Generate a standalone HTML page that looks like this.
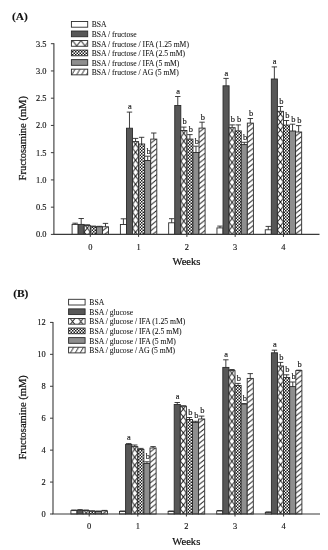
<!DOCTYPE html>
<html><head><meta charset="utf-8"><style>
html,body{margin:0;padding:0;background:#fff;width:328px;height:550px;overflow:hidden}
svg{display:block;filter:blur(0.3px)}
text{stroke:#111;stroke-width:0.14px} .lg{stroke-width:0.06px} .tt{stroke-width:0.22px}
</style></head><body>
<svg width="328" height="550" viewBox="0 0 328 550">
<defs>
<pattern id="dots" patternUnits="userSpaceOnUse" width="3" height="3">
<rect width="3" height="3" fill="#fff"/>
<rect width="1.5" height="1.5" fill="#1a1a1a"/>
<rect x="1.5" y="1.5" width="1.5" height="1.5" fill="#1a1a1a"/>
</pattern>
<pattern id="p1" patternUnits="userSpaceOnUse" x="84.23" y="224.10" width="6.07" height="8"><rect width="6.07" height="8" fill="#fff"/><path d="M0,0 L6.07,8 M6.07,0 L0,8" stroke="#111" stroke-width="0.9" fill="none"/></pattern>
<pattern id="p2" patternUnits="userSpaceOnUse" x="102.44" y="231.00" width="6.07" height="5.15"><rect width="6.07" height="5.15" fill="#fff"/><path d="M0,-5.15 L6.07,-10.05 M0,0.00 L6.07,-4.90 M0,5.15 L6.07,0.25 M0,10.30 L6.07,5.40" stroke="#222" stroke-width="0.95" fill="none"/></pattern>
<pattern id="p3" patternUnits="userSpaceOnUse" x="132.52" y="140.30" width="6.07" height="8"><rect width="6.07" height="8" fill="#fff"/><path d="M0,0 L6.07,8 M6.07,0 L0,8" stroke="#111" stroke-width="0.9" fill="none"/></pattern>
<pattern id="p4" patternUnits="userSpaceOnUse" x="150.73" y="143.30" width="6.07" height="5.15"><rect width="6.07" height="5.15" fill="#fff"/><path d="M0,-5.15 L6.07,-10.05 M0,0.00 L6.07,-4.90 M0,5.15 L6.07,0.25 M0,10.30 L6.07,5.40" stroke="#222" stroke-width="0.95" fill="none"/></pattern>
<pattern id="p5" patternUnits="userSpaceOnUse" x="180.81" y="129.20" width="6.07" height="8"><rect width="6.07" height="8" fill="#fff"/><path d="M0,0 L6.07,8 M6.07,0 L0,8" stroke="#111" stroke-width="0.9" fill="none"/></pattern>
<pattern id="p6" patternUnits="userSpaceOnUse" x="199.02" y="132.30" width="6.07" height="5.15"><rect width="6.07" height="5.15" fill="#fff"/><path d="M0,-5.15 L6.07,-10.05 M0,0.00 L6.07,-4.90 M0,5.15 L6.07,0.25 M0,10.30 L6.07,5.40" stroke="#222" stroke-width="0.95" fill="none"/></pattern>
<pattern id="p7" patternUnits="userSpaceOnUse" x="229.10" y="126.40" width="6.07" height="8"><rect width="6.07" height="8" fill="#fff"/><path d="M0,0 L6.07,8 M6.07,0 L0,8" stroke="#111" stroke-width="0.9" fill="none"/></pattern>
<pattern id="p8" patternUnits="userSpaceOnUse" x="247.31" y="127.30" width="6.07" height="5.15"><rect width="6.07" height="5.15" fill="#fff"/><path d="M0,-5.15 L6.07,-10.05 M0,0.00 L6.07,-4.90 M0,5.15 L6.07,0.25 M0,10.30 L6.07,5.40" stroke="#222" stroke-width="0.95" fill="none"/></pattern>
<pattern id="p9" patternUnits="userSpaceOnUse" x="277.39" y="110.00" width="6.07" height="8"><rect width="6.07" height="8" fill="#fff"/><path d="M0,0 L6.07,8 M6.07,0 L0,8" stroke="#111" stroke-width="0.9" fill="none"/></pattern>
<pattern id="p10" patternUnits="userSpaceOnUse" x="295.60" y="136.20" width="6.07" height="5.15"><rect width="6.07" height="5.15" fill="#fff"/><path d="M0,-5.15 L6.07,-10.05 M0,0.00 L6.07,-4.90 M0,5.15 L6.07,0.25 M0,10.30 L6.07,5.40" stroke="#222" stroke-width="0.95" fill="none"/></pattern>
<pattern id="p11" patternUnits="userSpaceOnUse" x="72.60" y="40.61" width="8.3" height="10.7"><rect width="8.3" height="10.7" fill="#fff"/><path d="M0,0 L8.3,10.7 M8.3,0 L0,10.7" stroke="#222" stroke-width="0.95" fill="none"/></pattern>
<pattern id="p12" patternUnits="userSpaceOnUse" x="71.70" y="69.15" width="4.9" height="5.7"><rect width="4.9" height="5.7" fill="#fff"/><path d="M0,5.7 L3.4,0 M-4.9,5.7 L-1.5000000000000004,0 M4.9,5.7 L8.3,0" stroke="#222" stroke-width="0.95" fill="none"/></pattern>
<pattern id="p13" patternUnits="userSpaceOnUse" x="83.10" y="509.20" width="6.1" height="8"><rect width="6.1" height="8" fill="#fff"/><path d="M0,0 L6.1,8 M6.1,0 L0,8" stroke="#111" stroke-width="0.9" fill="none"/></pattern>
<pattern id="p14" patternUnits="userSpaceOnUse" x="101.40" y="515.10" width="6.1" height="5.15"><rect width="6.1" height="5.15" fill="#fff"/><path d="M0,-5.15 L6.1,-10.05 M0,0.00 L6.1,-4.90 M0,5.15 L6.1,0.25 M0,10.30 L6.1,5.40" stroke="#222" stroke-width="0.95" fill="none"/></pattern>
<pattern id="p15" patternUnits="userSpaceOnUse" x="131.70" y="445.30" width="6.1" height="8"><rect width="6.1" height="8" fill="#fff"/><path d="M0,0 L6.1,8 M6.1,0 L0,8" stroke="#111" stroke-width="0.9" fill="none"/></pattern>
<pattern id="p16" patternUnits="userSpaceOnUse" x="150.00" y="452.20" width="6.1" height="5.15"><rect width="6.1" height="5.15" fill="#fff"/><path d="M0,-5.15 L6.1,-10.05 M0,0.00 L6.1,-4.90 M0,5.15 L6.1,0.25 M0,10.30 L6.1,5.40" stroke="#222" stroke-width="0.95" fill="none"/></pattern>
<pattern id="p17" patternUnits="userSpaceOnUse" x="180.30" y="404.90" width="6.1" height="8"><rect width="6.1" height="8" fill="#fff"/><path d="M0,0 L6.1,8 M6.1,0 L0,8" stroke="#111" stroke-width="0.9" fill="none"/></pattern>
<pattern id="p18" patternUnits="userSpaceOnUse" x="198.60" y="423.20" width="6.1" height="5.15"><rect width="6.1" height="5.15" fill="#fff"/><path d="M0,-5.15 L6.1,-10.05 M0,0.00 L6.1,-4.90 M0,5.15 L6.1,0.25 M0,10.30 L6.1,5.40" stroke="#222" stroke-width="0.95" fill="none"/></pattern>
<pattern id="p19" patternUnits="userSpaceOnUse" x="228.90" y="369.30" width="6.1" height="8"><rect width="6.1" height="8" fill="#fff"/><path d="M0,0 L6.1,8 M6.1,0 L0,8" stroke="#111" stroke-width="0.9" fill="none"/></pattern>
<pattern id="p20" patternUnits="userSpaceOnUse" x="247.20" y="382.60" width="6.1" height="5.15"><rect width="6.1" height="5.15" fill="#fff"/><path d="M0,-5.15 L6.1,-10.05 M0,0.00 L6.1,-4.90 M0,5.15 L6.1,0.25 M0,10.30 L6.1,5.40" stroke="#222" stroke-width="0.95" fill="none"/></pattern>
<pattern id="p21" patternUnits="userSpaceOnUse" x="277.50" y="364.70" width="6.1" height="8"><rect width="6.1" height="8" fill="#fff"/><path d="M0,0 L6.1,8 M6.1,0 L0,8" stroke="#111" stroke-width="0.9" fill="none"/></pattern>
<pattern id="p22" patternUnits="userSpaceOnUse" x="295.80" y="374.80" width="6.1" height="5.15"><rect width="6.1" height="5.15" fill="#fff"/><path d="M0,-5.15 L6.1,-10.05 M0,0.00 L6.1,-4.90 M0,5.15 L6.1,0.25 M0,10.30 L6.1,5.40" stroke="#222" stroke-width="0.95" fill="none"/></pattern>
<pattern id="p23" patternUnits="userSpaceOnUse" x="68.45" y="316.16" width="8.3" height="10.7"><rect width="8.3" height="10.7" fill="#fff"/><path d="M0,0 L8.3,10.7 M8.3,0 L0,10.7" stroke="#222" stroke-width="0.95" fill="none"/></pattern>
<pattern id="p24" patternUnits="userSpaceOnUse" x="70.40" y="347.20" width="4.9" height="5.7"><rect width="4.9" height="5.7" fill="#fff"/><path d="M0,5.7 L3.4,0 M-4.9,5.7 L-1.5000000000000004,0 M4.9,5.7 L8.3,0" stroke="#222" stroke-width="0.95" fill="none"/></pattern>
</defs>
<rect width="328" height="550" fill="#fff"/>
<g font-family='"Liberation Serif", serif' fill="#111">
<rect x="72.09" y="224.40" width="6.07" height="10.00" fill="#fff" stroke="#2a2a2a" stroke-width="0.9"/>
<line x1="75.12" y1="224.40" x2="75.12" y2="223.20" stroke="#2a2a2a" stroke-width="0.9"/>
<line x1="72.42" y1="223.20" x2="77.83" y2="223.20" stroke="#2a2a2a" stroke-width="0.9"/>
<rect x="78.16" y="224.40" width="6.07" height="10.00" fill="#575757" stroke="#2a2a2a" stroke-width="0.9"/>
<line x1="81.19" y1="224.40" x2="81.19" y2="218.50" stroke="#2a2a2a" stroke-width="0.9"/>
<line x1="78.49" y1="218.50" x2="83.89" y2="218.50" stroke="#2a2a2a" stroke-width="0.9"/>
<rect x="84.23" y="225.40" width="6.07" height="9.00" fill="url(#p1)" stroke="#2a2a2a" stroke-width="0.9"/>
<line x1="87.27" y1="225.40" x2="87.27" y2="224.80" stroke="#2a2a2a" stroke-width="0.9"/>
<line x1="84.56" y1="224.80" x2="89.97" y2="224.80" stroke="#2a2a2a" stroke-width="0.9"/>
<rect x="90.30" y="226.80" width="6.07" height="7.60" fill="url(#dots)" stroke="#2a2a2a" stroke-width="0.9"/>
<line x1="93.34" y1="226.80" x2="93.34" y2="226.10" stroke="#2a2a2a" stroke-width="0.9"/>
<line x1="90.64" y1="226.10" x2="96.04" y2="226.10" stroke="#2a2a2a" stroke-width="0.9"/>
<rect x="96.37" y="226.80" width="6.07" height="7.60" fill="#8e8e8e" stroke="#2a2a2a" stroke-width="0.9"/>
<line x1="99.41" y1="226.80" x2="99.41" y2="226.30" stroke="#2a2a2a" stroke-width="0.9"/>
<line x1="96.70" y1="226.30" x2="102.11" y2="226.30" stroke="#2a2a2a" stroke-width="0.9"/>
<rect x="102.44" y="226.80" width="6.07" height="7.60" fill="url(#p2)" stroke="#2a2a2a" stroke-width="0.9"/>
<line x1="105.47" y1="226.80" x2="105.47" y2="223.40" stroke="#2a2a2a" stroke-width="0.9"/>
<line x1="102.77" y1="223.40" x2="108.17" y2="223.40" stroke="#2a2a2a" stroke-width="0.9"/>
<rect x="120.38" y="224.50" width="6.07" height="9.90" fill="#fff" stroke="#2a2a2a" stroke-width="0.9"/>
<line x1="123.41" y1="224.50" x2="123.41" y2="218.80" stroke="#2a2a2a" stroke-width="0.9"/>
<line x1="120.71" y1="218.80" x2="126.11" y2="218.80" stroke="#2a2a2a" stroke-width="0.9"/>
<rect x="126.45" y="128.20" width="6.07" height="106.20" fill="#575757" stroke="#2a2a2a" stroke-width="0.9"/>
<line x1="129.48" y1="128.20" x2="129.48" y2="112.10" stroke="#2a2a2a" stroke-width="0.9"/>
<line x1="126.78" y1="112.10" x2="132.18" y2="112.10" stroke="#2a2a2a" stroke-width="0.9"/>
<text x="129.78" y="109.30" font-size="8.4" text-anchor="middle">a</text>
<rect x="132.52" y="141.60" width="6.07" height="92.80" fill="url(#p3)" stroke="#2a2a2a" stroke-width="0.9"/>
<line x1="135.55" y1="141.60" x2="135.55" y2="138.40" stroke="#2a2a2a" stroke-width="0.9"/>
<line x1="132.85" y1="138.40" x2="138.25" y2="138.40" stroke="#2a2a2a" stroke-width="0.9"/>
<rect x="138.59" y="144.00" width="6.07" height="90.40" fill="url(#dots)" stroke="#2a2a2a" stroke-width="0.9"/>
<line x1="141.62" y1="144.00" x2="141.62" y2="137.30" stroke="#2a2a2a" stroke-width="0.9"/>
<line x1="138.93" y1="137.30" x2="144.32" y2="137.30" stroke="#2a2a2a" stroke-width="0.9"/>
<rect x="144.66" y="160.50" width="6.07" height="73.90" fill="#8e8e8e" stroke="#2a2a2a" stroke-width="0.9"/>
<line x1="147.69" y1="160.50" x2="147.69" y2="156.20" stroke="#2a2a2a" stroke-width="0.9"/>
<line x1="145.00" y1="156.20" x2="150.39" y2="156.20" stroke="#2a2a2a" stroke-width="0.9"/>
<text x="148.50" y="153.50" font-size="8.4" text-anchor="middle">b</text>
<rect x="150.73" y="139.10" width="6.07" height="95.30" fill="url(#p4)" stroke="#2a2a2a" stroke-width="0.9"/>
<line x1="153.76" y1="139.10" x2="153.76" y2="133.00" stroke="#2a2a2a" stroke-width="0.9"/>
<line x1="151.06" y1="133.00" x2="156.46" y2="133.00" stroke="#2a2a2a" stroke-width="0.9"/>
<rect x="168.67" y="222.80" width="6.07" height="11.60" fill="#fff" stroke="#2a2a2a" stroke-width="0.9"/>
<line x1="171.70" y1="222.80" x2="171.70" y2="218.70" stroke="#2a2a2a" stroke-width="0.9"/>
<line x1="169.00" y1="218.70" x2="174.40" y2="218.70" stroke="#2a2a2a" stroke-width="0.9"/>
<rect x="174.74" y="105.50" width="6.07" height="128.90" fill="#575757" stroke="#2a2a2a" stroke-width="0.9"/>
<line x1="177.77" y1="105.50" x2="177.77" y2="96.50" stroke="#2a2a2a" stroke-width="0.9"/>
<line x1="175.07" y1="96.50" x2="180.47" y2="96.50" stroke="#2a2a2a" stroke-width="0.9"/>
<text x="178.07" y="93.70" font-size="8.4" text-anchor="middle">a</text>
<rect x="180.81" y="130.50" width="6.07" height="103.90" fill="url(#p5)" stroke="#2a2a2a" stroke-width="0.9"/>
<line x1="183.84" y1="130.50" x2="183.84" y2="127.10" stroke="#2a2a2a" stroke-width="0.9"/>
<line x1="181.15" y1="127.10" x2="186.54" y2="127.10" stroke="#2a2a2a" stroke-width="0.9"/>
<text x="184.65" y="124.40" font-size="8.4" text-anchor="middle">b</text>
<rect x="186.88" y="139.10" width="6.07" height="95.30" fill="url(#dots)" stroke="#2a2a2a" stroke-width="0.9"/>
<line x1="189.91" y1="139.10" x2="189.91" y2="134.60" stroke="#2a2a2a" stroke-width="0.9"/>
<line x1="187.22" y1="134.60" x2="192.61" y2="134.60" stroke="#2a2a2a" stroke-width="0.9"/>
<text x="190.72" y="131.90" font-size="8.4" text-anchor="middle">b</text>
<rect x="192.95" y="152.50" width="6.07" height="81.90" fill="#8e8e8e" stroke="#2a2a2a" stroke-width="0.9"/>
<line x1="195.98" y1="152.50" x2="195.98" y2="146.20" stroke="#2a2a2a" stroke-width="0.9"/>
<line x1="193.28" y1="146.20" x2="198.68" y2="146.20" stroke="#2a2a2a" stroke-width="0.9"/>
<text x="196.78" y="143.50" font-size="8.4" text-anchor="middle">b</text>
<rect x="199.02" y="128.10" width="6.07" height="106.30" fill="url(#p6)" stroke="#2a2a2a" stroke-width="0.9"/>
<line x1="202.05" y1="128.10" x2="202.05" y2="122.20" stroke="#2a2a2a" stroke-width="0.9"/>
<line x1="199.35" y1="122.20" x2="204.75" y2="122.20" stroke="#2a2a2a" stroke-width="0.9"/>
<text x="202.85" y="119.50" font-size="8.4" text-anchor="middle">b</text>
<rect x="216.96" y="227.90" width="6.07" height="6.50" fill="#fff" stroke="#2a2a2a" stroke-width="0.9"/>
<line x1="220.00" y1="227.90" x2="220.00" y2="226.10" stroke="#2a2a2a" stroke-width="0.9"/>
<line x1="217.30" y1="226.10" x2="222.69" y2="226.10" stroke="#2a2a2a" stroke-width="0.9"/>
<rect x="223.03" y="85.80" width="6.07" height="148.60" fill="#575757" stroke="#2a2a2a" stroke-width="0.9"/>
<line x1="226.06" y1="85.80" x2="226.06" y2="78.40" stroke="#2a2a2a" stroke-width="0.9"/>
<line x1="223.37" y1="78.40" x2="228.76" y2="78.40" stroke="#2a2a2a" stroke-width="0.9"/>
<text x="226.37" y="75.60" font-size="8.4" text-anchor="middle">a</text>
<rect x="229.10" y="127.70" width="6.07" height="106.70" fill="url(#p7)" stroke="#2a2a2a" stroke-width="0.9"/>
<line x1="232.14" y1="127.70" x2="232.14" y2="124.90" stroke="#2a2a2a" stroke-width="0.9"/>
<line x1="229.44" y1="124.90" x2="234.84" y2="124.90" stroke="#2a2a2a" stroke-width="0.9"/>
<text x="232.94" y="122.20" font-size="8.4" text-anchor="middle">b</text>
<rect x="235.17" y="130.90" width="6.07" height="103.50" fill="url(#dots)" stroke="#2a2a2a" stroke-width="0.9"/>
<line x1="238.21" y1="130.90" x2="238.21" y2="124.90" stroke="#2a2a2a" stroke-width="0.9"/>
<line x1="235.51" y1="124.90" x2="240.91" y2="124.90" stroke="#2a2a2a" stroke-width="0.9"/>
<text x="239.01" y="122.20" font-size="8.4" text-anchor="middle">b</text>
<rect x="241.24" y="144.60" width="6.07" height="89.80" fill="#8e8e8e" stroke="#2a2a2a" stroke-width="0.9"/>
<line x1="244.28" y1="144.60" x2="244.28" y2="142.30" stroke="#2a2a2a" stroke-width="0.9"/>
<line x1="241.58" y1="142.30" x2="246.97" y2="142.30" stroke="#2a2a2a" stroke-width="0.9"/>
<text x="245.08" y="139.60" font-size="8.4" text-anchor="middle">b</text>
<rect x="247.31" y="123.10" width="6.07" height="111.30" fill="url(#p8)" stroke="#2a2a2a" stroke-width="0.9"/>
<line x1="250.34" y1="123.10" x2="250.34" y2="118.50" stroke="#2a2a2a" stroke-width="0.9"/>
<line x1="247.65" y1="118.50" x2="253.04" y2="118.50" stroke="#2a2a2a" stroke-width="0.9"/>
<text x="251.15" y="115.80" font-size="8.4" text-anchor="middle">b</text>
<rect x="265.25" y="229.80" width="6.07" height="4.60" fill="#fff" stroke="#2a2a2a" stroke-width="0.9"/>
<line x1="268.29" y1="229.80" x2="268.29" y2="226.40" stroke="#2a2a2a" stroke-width="0.9"/>
<line x1="265.59" y1="226.40" x2="270.99" y2="226.40" stroke="#2a2a2a" stroke-width="0.9"/>
<rect x="271.32" y="79.00" width="6.07" height="155.40" fill="#575757" stroke="#2a2a2a" stroke-width="0.9"/>
<line x1="274.36" y1="79.00" x2="274.36" y2="66.90" stroke="#2a2a2a" stroke-width="0.9"/>
<line x1="271.66" y1="66.90" x2="277.06" y2="66.90" stroke="#2a2a2a" stroke-width="0.9"/>
<text x="274.66" y="64.10" font-size="8.4" text-anchor="middle">a</text>
<rect x="277.39" y="111.30" width="6.07" height="123.10" fill="url(#p9)" stroke="#2a2a2a" stroke-width="0.9"/>
<line x1="280.43" y1="111.30" x2="280.43" y2="106.50" stroke="#2a2a2a" stroke-width="0.9"/>
<line x1="277.73" y1="106.50" x2="283.12" y2="106.50" stroke="#2a2a2a" stroke-width="0.9"/>
<text x="281.23" y="103.80" font-size="8.4" text-anchor="middle">b</text>
<rect x="283.46" y="125.10" width="6.07" height="109.30" fill="url(#dots)" stroke="#2a2a2a" stroke-width="0.9"/>
<line x1="286.50" y1="125.10" x2="286.50" y2="120.50" stroke="#2a2a2a" stroke-width="0.9"/>
<line x1="283.80" y1="120.50" x2="289.19" y2="120.50" stroke="#2a2a2a" stroke-width="0.9"/>
<text x="287.30" y="117.80" font-size="8.4" text-anchor="middle">b</text>
<rect x="289.53" y="131.00" width="6.07" height="103.40" fill="#8e8e8e" stroke="#2a2a2a" stroke-width="0.9"/>
<line x1="292.56" y1="131.00" x2="292.56" y2="124.20" stroke="#2a2a2a" stroke-width="0.9"/>
<line x1="289.87" y1="124.20" x2="295.26" y2="124.20" stroke="#2a2a2a" stroke-width="0.9"/>
<text x="293.37" y="121.50" font-size="8.4" text-anchor="middle">b</text>
<rect x="295.60" y="132.00" width="6.07" height="102.40" fill="url(#p10)" stroke="#2a2a2a" stroke-width="0.9"/>
<line x1="298.64" y1="132.00" x2="298.64" y2="125.60" stroke="#2a2a2a" stroke-width="0.9"/>
<line x1="295.94" y1="125.60" x2="301.34" y2="125.60" stroke="#2a2a2a" stroke-width="0.9"/>
<text x="299.44" y="122.90" font-size="8.4" text-anchor="middle">b</text>
<line x1="53.9" y1="43.20" x2="53.9" y2="234.4" stroke="#3a3a3a" stroke-width="1.1"/>
<line x1="53.4" y1="234.4" x2="319.5" y2="234.4" stroke="#3a3a3a" stroke-width="1.1"/>
<line x1="50.9" y1="234.40" x2="53.9" y2="234.40" stroke="#3a3a3a" stroke-width="1"/>
<text x="46.5" y="237.30" font-size="8.4" text-anchor="end">0.0</text>
<line x1="50.9" y1="207.16" x2="53.9" y2="207.16" stroke="#3a3a3a" stroke-width="1"/>
<text x="46.5" y="210.06" font-size="8.4" text-anchor="end">0.5</text>
<line x1="50.9" y1="179.91" x2="53.9" y2="179.91" stroke="#3a3a3a" stroke-width="1"/>
<text x="46.5" y="182.81" font-size="8.4" text-anchor="end">1.0</text>
<line x1="50.9" y1="152.67" x2="53.9" y2="152.67" stroke="#3a3a3a" stroke-width="1"/>
<text x="46.5" y="155.57" font-size="8.4" text-anchor="end">1.5</text>
<line x1="50.9" y1="125.43" x2="53.9" y2="125.43" stroke="#3a3a3a" stroke-width="1"/>
<text x="46.5" y="128.33" font-size="8.4" text-anchor="end">2.0</text>
<line x1="50.9" y1="98.19" x2="53.9" y2="98.19" stroke="#3a3a3a" stroke-width="1"/>
<text x="46.5" y="101.09" font-size="8.4" text-anchor="end">2.5</text>
<line x1="50.9" y1="70.94" x2="53.9" y2="70.94" stroke="#3a3a3a" stroke-width="1"/>
<text x="46.5" y="73.84" font-size="8.4" text-anchor="end">3.0</text>
<line x1="50.9" y1="43.70" x2="53.9" y2="43.70" stroke="#3a3a3a" stroke-width="1"/>
<text x="46.5" y="46.60" font-size="8.4" text-anchor="end">3.5</text>
<line x1="90.30" y1="234.4" x2="90.30" y2="236.9" stroke="#3a3a3a" stroke-width="1"/>
<text x="90.30" y="249.70" font-size="8.4" text-anchor="middle">0</text>
<line x1="138.59" y1="234.4" x2="138.59" y2="236.9" stroke="#3a3a3a" stroke-width="1"/>
<text x="138.59" y="249.70" font-size="8.4" text-anchor="middle">1</text>
<line x1="186.88" y1="234.4" x2="186.88" y2="236.9" stroke="#3a3a3a" stroke-width="1"/>
<text x="186.88" y="249.70" font-size="8.4" text-anchor="middle">2</text>
<line x1="235.17" y1="234.4" x2="235.17" y2="236.9" stroke="#3a3a3a" stroke-width="1"/>
<text x="235.17" y="249.70" font-size="8.4" text-anchor="middle">3</text>
<line x1="283.46" y1="234.4" x2="283.46" y2="236.9" stroke="#3a3a3a" stroke-width="1"/>
<text x="283.46" y="249.70" font-size="8.4" text-anchor="middle">4</text>
<text transform="translate(26.2,138.25) rotate(-90)" font-size="10.5" text-anchor="middle" class="tt">Fructosamine (mM)</text>
<text x="186.5" y="265.10" font-size="10.6" text-anchor="middle" class="tt">Weeks</text>
<text x="11.9" y="19.8" font-size="11.4" font-weight="bold">(A)</text>
<rect x="71.4" y="21.50" width="16.3" height="5.7" fill="#fff" stroke="#2a2a2a" stroke-width="0.9"/>
<text x="91.7" y="27.45" font-size="7.65" class="lg">BSA</text>
<rect x="71.4" y="31.03" width="16.3" height="5.7" fill="#575757" stroke="#2a2a2a" stroke-width="0.9"/>
<text x="91.7" y="36.98" font-size="7.65" class="lg">BSA / fructose</text>
<rect x="71.4" y="40.56" width="16.3" height="5.7" fill="url(#p11)" stroke="#2a2a2a" stroke-width="0.9"/>
<text x="91.7" y="46.51" font-size="7.65" class="lg">BSA / fructose / IFA (1.25 mM)</text>
<rect x="71.4" y="50.09" width="16.3" height="5.7" fill="url(#dots)" stroke="#2a2a2a" stroke-width="0.9"/>
<text x="91.7" y="56.04" font-size="7.65" class="lg">BSA / fructose / IFA (2.5 mM)</text>
<rect x="71.4" y="59.62" width="16.3" height="5.7" fill="#8e8e8e" stroke="#2a2a2a" stroke-width="0.9"/>
<text x="91.7" y="65.57" font-size="7.65" class="lg">BSA / fructose / IFA (5 mM)</text>
<rect x="71.4" y="69.15" width="16.3" height="5.7" fill="url(#p12)" stroke="#2a2a2a" stroke-width="0.9"/>
<text x="91.7" y="75.10" font-size="7.65" class="lg">BSA / fructose / AG (5 mM)</text>
<rect x="70.90" y="510.60" width="6.10" height="3.40" fill="#fff" stroke="#2a2a2a" stroke-width="0.9"/>
<line x1="73.95" y1="510.60" x2="73.95" y2="510.00" stroke="#2a2a2a" stroke-width="0.9"/>
<line x1="71.25" y1="510.00" x2="76.65" y2="510.00" stroke="#2a2a2a" stroke-width="0.9"/>
<rect x="77.00" y="510.30" width="6.10" height="3.70" fill="#575757" stroke="#2a2a2a" stroke-width="0.9"/>
<line x1="80.05" y1="510.30" x2="80.05" y2="509.60" stroke="#2a2a2a" stroke-width="0.9"/>
<line x1="77.35" y1="509.60" x2="82.75" y2="509.60" stroke="#2a2a2a" stroke-width="0.9"/>
<rect x="83.10" y="510.50" width="6.10" height="3.50" fill="url(#p13)" stroke="#2a2a2a" stroke-width="0.9"/>
<line x1="86.15" y1="510.50" x2="86.15" y2="510.00" stroke="#2a2a2a" stroke-width="0.9"/>
<line x1="83.45" y1="510.00" x2="88.85" y2="510.00" stroke="#2a2a2a" stroke-width="0.9"/>
<rect x="89.20" y="511.20" width="6.10" height="2.80" fill="url(#dots)" stroke="#2a2a2a" stroke-width="0.9"/>
<line x1="92.25" y1="511.20" x2="92.25" y2="510.80" stroke="#2a2a2a" stroke-width="0.9"/>
<line x1="89.55" y1="510.80" x2="94.95" y2="510.80" stroke="#2a2a2a" stroke-width="0.9"/>
<rect x="95.30" y="511.50" width="6.10" height="2.50" fill="#8e8e8e" stroke="#2a2a2a" stroke-width="0.9"/>
<line x1="98.35" y1="511.50" x2="98.35" y2="511.00" stroke="#2a2a2a" stroke-width="0.9"/>
<line x1="95.65" y1="511.00" x2="101.05" y2="511.00" stroke="#2a2a2a" stroke-width="0.9"/>
<rect x="101.40" y="510.90" width="6.10" height="3.10" fill="url(#p14)" stroke="#2a2a2a" stroke-width="0.9"/>
<line x1="104.45" y1="510.90" x2="104.45" y2="510.40" stroke="#2a2a2a" stroke-width="0.9"/>
<line x1="101.75" y1="510.40" x2="107.15" y2="510.40" stroke="#2a2a2a" stroke-width="0.9"/>
<rect x="119.50" y="511.40" width="6.10" height="2.60" fill="#fff" stroke="#2a2a2a" stroke-width="0.9"/>
<line x1="122.55" y1="511.40" x2="122.55" y2="511.00" stroke="#2a2a2a" stroke-width="0.9"/>
<line x1="119.85" y1="511.00" x2="125.25" y2="511.00" stroke="#2a2a2a" stroke-width="0.9"/>
<rect x="125.60" y="444.40" width="6.10" height="69.60" fill="#575757" stroke="#2a2a2a" stroke-width="0.9"/>
<line x1="128.65" y1="444.40" x2="128.65" y2="443.60" stroke="#2a2a2a" stroke-width="0.9"/>
<line x1="125.95" y1="443.60" x2="131.35" y2="443.60" stroke="#2a2a2a" stroke-width="0.9"/>
<text x="128.95" y="440.30" font-size="8.4" text-anchor="middle">a</text>
<rect x="131.70" y="446.60" width="6.10" height="67.40" fill="url(#p15)" stroke="#2a2a2a" stroke-width="0.9"/>
<line x1="134.75" y1="446.60" x2="134.75" y2="445.00" stroke="#2a2a2a" stroke-width="0.9"/>
<line x1="132.05" y1="445.00" x2="137.45" y2="445.00" stroke="#2a2a2a" stroke-width="0.9"/>
<rect x="137.80" y="449.40" width="6.10" height="64.60" fill="url(#dots)" stroke="#2a2a2a" stroke-width="0.9"/>
<line x1="140.85" y1="449.40" x2="140.85" y2="448.40" stroke="#2a2a2a" stroke-width="0.9"/>
<line x1="138.15" y1="448.40" x2="143.55" y2="448.40" stroke="#2a2a2a" stroke-width="0.9"/>
<rect x="143.90" y="463.40" width="6.10" height="50.60" fill="#8e8e8e" stroke="#2a2a2a" stroke-width="0.9"/>
<line x1="146.95" y1="463.40" x2="146.95" y2="461.80" stroke="#2a2a2a" stroke-width="0.9"/>
<line x1="144.25" y1="461.80" x2="149.65" y2="461.80" stroke="#2a2a2a" stroke-width="0.9"/>
<text x="147.75" y="458.90" font-size="8.4" text-anchor="middle">b</text>
<rect x="150.00" y="448.00" width="6.10" height="66.00" fill="url(#p16)" stroke="#2a2a2a" stroke-width="0.9"/>
<line x1="153.05" y1="448.00" x2="153.05" y2="446.60" stroke="#2a2a2a" stroke-width="0.9"/>
<line x1="150.35" y1="446.60" x2="155.75" y2="446.60" stroke="#2a2a2a" stroke-width="0.9"/>
<rect x="168.10" y="511.40" width="6.10" height="2.60" fill="#fff" stroke="#2a2a2a" stroke-width="0.9"/>
<line x1="171.15" y1="511.40" x2="171.15" y2="511.00" stroke="#2a2a2a" stroke-width="0.9"/>
<line x1="168.45" y1="511.00" x2="173.85" y2="511.00" stroke="#2a2a2a" stroke-width="0.9"/>
<rect x="174.20" y="404.50" width="6.10" height="109.50" fill="#575757" stroke="#2a2a2a" stroke-width="0.9"/>
<line x1="177.25" y1="404.50" x2="177.25" y2="402.50" stroke="#2a2a2a" stroke-width="0.9"/>
<line x1="174.55" y1="402.50" x2="179.95" y2="402.50" stroke="#2a2a2a" stroke-width="0.9"/>
<text x="177.55" y="399.20" font-size="8.4" text-anchor="middle">a</text>
<rect x="180.30" y="406.20" width="6.10" height="107.80" fill="url(#p17)" stroke="#2a2a2a" stroke-width="0.9"/>
<line x1="183.35" y1="406.20" x2="183.35" y2="405.80" stroke="#2a2a2a" stroke-width="0.9"/>
<line x1="180.65" y1="405.80" x2="186.05" y2="405.80" stroke="#2a2a2a" stroke-width="0.9"/>
<rect x="186.40" y="419.50" width="6.10" height="94.50" fill="url(#dots)" stroke="#2a2a2a" stroke-width="0.9"/>
<line x1="189.45" y1="419.50" x2="189.45" y2="417.50" stroke="#2a2a2a" stroke-width="0.9"/>
<line x1="186.75" y1="417.50" x2="192.15" y2="417.50" stroke="#2a2a2a" stroke-width="0.9"/>
<text x="190.25" y="414.60" font-size="8.4" text-anchor="middle">b</text>
<rect x="192.50" y="422.40" width="6.10" height="91.60" fill="#8e8e8e" stroke="#2a2a2a" stroke-width="0.9"/>
<line x1="195.55" y1="422.40" x2="195.55" y2="421.30" stroke="#2a2a2a" stroke-width="0.9"/>
<line x1="192.85" y1="421.30" x2="198.25" y2="421.30" stroke="#2a2a2a" stroke-width="0.9"/>
<text x="196.35" y="418.40" font-size="8.4" text-anchor="middle">b</text>
<rect x="198.60" y="419.00" width="6.10" height="95.00" fill="url(#p18)" stroke="#2a2a2a" stroke-width="0.9"/>
<line x1="201.65" y1="419.00" x2="201.65" y2="416.10" stroke="#2a2a2a" stroke-width="0.9"/>
<line x1="198.95" y1="416.10" x2="204.35" y2="416.10" stroke="#2a2a2a" stroke-width="0.9"/>
<text x="202.45" y="413.20" font-size="8.4" text-anchor="middle">b</text>
<rect x="216.70" y="511.00" width="6.10" height="3.00" fill="#fff" stroke="#2a2a2a" stroke-width="0.9"/>
<line x1="219.75" y1="511.00" x2="219.75" y2="510.50" stroke="#2a2a2a" stroke-width="0.9"/>
<line x1="217.05" y1="510.50" x2="222.45" y2="510.50" stroke="#2a2a2a" stroke-width="0.9"/>
<rect x="222.80" y="367.40" width="6.10" height="146.60" fill="#575757" stroke="#2a2a2a" stroke-width="0.9"/>
<line x1="225.85" y1="367.40" x2="225.85" y2="359.80" stroke="#2a2a2a" stroke-width="0.9"/>
<line x1="223.15" y1="359.80" x2="228.55" y2="359.80" stroke="#2a2a2a" stroke-width="0.9"/>
<text x="226.15" y="356.50" font-size="8.4" text-anchor="middle">a</text>
<rect x="228.90" y="370.60" width="6.10" height="143.40" fill="url(#p19)" stroke="#2a2a2a" stroke-width="0.9"/>
<line x1="231.95" y1="370.60" x2="231.95" y2="369.50" stroke="#2a2a2a" stroke-width="0.9"/>
<line x1="229.25" y1="369.50" x2="234.65" y2="369.50" stroke="#2a2a2a" stroke-width="0.9"/>
<rect x="235.00" y="385.50" width="6.10" height="128.50" fill="url(#dots)" stroke="#2a2a2a" stroke-width="0.9"/>
<line x1="238.05" y1="385.50" x2="238.05" y2="383.40" stroke="#2a2a2a" stroke-width="0.9"/>
<line x1="235.35" y1="383.40" x2="240.75" y2="383.40" stroke="#2a2a2a" stroke-width="0.9"/>
<text x="238.85" y="380.50" font-size="8.4" text-anchor="middle">b</text>
<rect x="241.10" y="404.00" width="6.10" height="110.00" fill="#8e8e8e" stroke="#2a2a2a" stroke-width="0.9"/>
<line x1="244.15" y1="404.00" x2="244.15" y2="403.60" stroke="#2a2a2a" stroke-width="0.9"/>
<line x1="241.45" y1="403.60" x2="246.85" y2="403.60" stroke="#2a2a2a" stroke-width="0.9"/>
<text x="244.95" y="400.70" font-size="8.4" text-anchor="middle">b</text>
<rect x="247.20" y="378.40" width="6.10" height="135.60" fill="url(#p20)" stroke="#2a2a2a" stroke-width="0.9"/>
<line x1="250.25" y1="378.40" x2="250.25" y2="373.60" stroke="#2a2a2a" stroke-width="0.9"/>
<line x1="247.55" y1="373.60" x2="252.95" y2="373.60" stroke="#2a2a2a" stroke-width="0.9"/>
<rect x="265.30" y="512.40" width="6.10" height="1.60" fill="#fff" stroke="#2a2a2a" stroke-width="0.9"/>
<line x1="268.35" y1="512.40" x2="268.35" y2="511.90" stroke="#2a2a2a" stroke-width="0.9"/>
<line x1="265.65" y1="511.90" x2="271.05" y2="511.90" stroke="#2a2a2a" stroke-width="0.9"/>
<rect x="271.40" y="352.80" width="6.10" height="161.20" fill="#575757" stroke="#2a2a2a" stroke-width="0.9"/>
<line x1="274.45" y1="352.80" x2="274.45" y2="350.20" stroke="#2a2a2a" stroke-width="0.9"/>
<line x1="271.75" y1="350.20" x2="277.15" y2="350.20" stroke="#2a2a2a" stroke-width="0.9"/>
<text x="274.75" y="346.90" font-size="8.4" text-anchor="middle">a</text>
<rect x="277.50" y="366.00" width="6.10" height="148.00" fill="url(#p21)" stroke="#2a2a2a" stroke-width="0.9"/>
<line x1="280.55" y1="366.00" x2="280.55" y2="362.40" stroke="#2a2a2a" stroke-width="0.9"/>
<line x1="277.85" y1="362.40" x2="283.25" y2="362.40" stroke="#2a2a2a" stroke-width="0.9"/>
<text x="281.35" y="359.50" font-size="8.4" text-anchor="middle">b</text>
<rect x="283.60" y="377.50" width="6.10" height="136.50" fill="url(#dots)" stroke="#2a2a2a" stroke-width="0.9"/>
<line x1="286.65" y1="377.50" x2="286.65" y2="374.80" stroke="#2a2a2a" stroke-width="0.9"/>
<line x1="283.95" y1="374.80" x2="289.35" y2="374.80" stroke="#2a2a2a" stroke-width="0.9"/>
<text x="287.45" y="371.90" font-size="8.4" text-anchor="middle">b</text>
<rect x="289.70" y="386.60" width="6.10" height="127.40" fill="#8e8e8e" stroke="#2a2a2a" stroke-width="0.9"/>
<line x1="292.75" y1="386.60" x2="292.75" y2="382.00" stroke="#2a2a2a" stroke-width="0.9"/>
<line x1="290.05" y1="382.00" x2="295.45" y2="382.00" stroke="#2a2a2a" stroke-width="0.9"/>
<text x="293.55" y="379.10" font-size="8.4" text-anchor="middle">b</text>
<rect x="295.80" y="370.60" width="6.10" height="143.40" fill="url(#p22)" stroke="#2a2a2a" stroke-width="0.9"/>
<line x1="298.85" y1="370.60" x2="298.85" y2="370.20" stroke="#2a2a2a" stroke-width="0.9"/>
<line x1="296.15" y1="370.20" x2="301.55" y2="370.20" stroke="#2a2a2a" stroke-width="0.9"/>
<text x="299.65" y="367.30" font-size="8.4" text-anchor="middle">b</text>
<line x1="53.0" y1="321.90" x2="53.0" y2="514.0" stroke="#3a3a3a" stroke-width="1.1"/>
<line x1="52.5" y1="514.0" x2="320" y2="514.0" stroke="#3a3a3a" stroke-width="1.1"/>
<line x1="50.0" y1="514.00" x2="53.0" y2="514.00" stroke="#3a3a3a" stroke-width="1"/>
<text x="45.6" y="516.90" font-size="8.4" text-anchor="end">0</text>
<line x1="50.0" y1="482.07" x2="53.0" y2="482.07" stroke="#3a3a3a" stroke-width="1"/>
<text x="45.6" y="484.97" font-size="8.4" text-anchor="end">2</text>
<line x1="50.0" y1="450.13" x2="53.0" y2="450.13" stroke="#3a3a3a" stroke-width="1"/>
<text x="45.6" y="453.03" font-size="8.4" text-anchor="end">4</text>
<line x1="50.0" y1="418.20" x2="53.0" y2="418.20" stroke="#3a3a3a" stroke-width="1"/>
<text x="45.6" y="421.10" font-size="8.4" text-anchor="end">6</text>
<line x1="50.0" y1="386.27" x2="53.0" y2="386.27" stroke="#3a3a3a" stroke-width="1"/>
<text x="45.6" y="389.17" font-size="8.4" text-anchor="end">8</text>
<line x1="50.0" y1="354.33" x2="53.0" y2="354.33" stroke="#3a3a3a" stroke-width="1"/>
<text x="45.6" y="357.23" font-size="8.4" text-anchor="end">10</text>
<line x1="50.0" y1="322.40" x2="53.0" y2="322.40" stroke="#3a3a3a" stroke-width="1"/>
<text x="45.6" y="325.30" font-size="8.4" text-anchor="end">12</text>
<line x1="89.20" y1="514.0" x2="89.20" y2="516.5" stroke="#3a3a3a" stroke-width="1"/>
<text x="89.20" y="529.30" font-size="8.4" text-anchor="middle">0</text>
<line x1="137.80" y1="514.0" x2="137.80" y2="516.5" stroke="#3a3a3a" stroke-width="1"/>
<text x="137.80" y="529.30" font-size="8.4" text-anchor="middle">1</text>
<line x1="186.40" y1="514.0" x2="186.40" y2="516.5" stroke="#3a3a3a" stroke-width="1"/>
<text x="186.40" y="529.30" font-size="8.4" text-anchor="middle">2</text>
<line x1="235.00" y1="514.0" x2="235.00" y2="516.5" stroke="#3a3a3a" stroke-width="1"/>
<text x="235.00" y="529.30" font-size="8.4" text-anchor="middle">3</text>
<line x1="283.60" y1="514.0" x2="283.60" y2="516.5" stroke="#3a3a3a" stroke-width="1"/>
<text x="283.60" y="529.30" font-size="8.4" text-anchor="middle">4</text>
<text transform="translate(26.2,417.40) rotate(-90)" font-size="10.5" text-anchor="middle" class="tt">Fructosamine (mM)</text>
<text x="186.3" y="544.70" font-size="10.6" text-anchor="middle" class="tt">Weeks</text>
<text x="13.2" y="297.1" font-size="11.4" font-weight="bold">(B)</text>
<rect x="68.6" y="299.30" width="16.5" height="5.7" fill="#fff" stroke="#2a2a2a" stroke-width="0.9"/>
<text x="89.3" y="305.25" font-size="7.65" class="lg">BSA</text>
<rect x="68.6" y="308.88" width="16.5" height="5.7" fill="#575757" stroke="#2a2a2a" stroke-width="0.9"/>
<text x="89.3" y="314.83" font-size="7.65" class="lg">BSA / glucose</text>
<rect x="68.6" y="318.46" width="16.5" height="5.7" fill="url(#p23)" stroke="#2a2a2a" stroke-width="0.9"/>
<text x="89.3" y="324.41" font-size="7.65" class="lg">BSA / glucose / IFA (1.25 mM)</text>
<rect x="68.6" y="328.04" width="16.5" height="5.7" fill="url(#dots)" stroke="#2a2a2a" stroke-width="0.9"/>
<text x="89.3" y="333.99" font-size="7.65" class="lg">BSA / glucose / IFA (2.5 mM)</text>
<rect x="68.6" y="337.62" width="16.5" height="5.7" fill="#8e8e8e" stroke="#2a2a2a" stroke-width="0.9"/>
<text x="89.3" y="343.57" font-size="7.65" class="lg">BSA / glucose / IFA (5 mM)</text>
<rect x="68.6" y="347.20" width="16.5" height="5.7" fill="url(#p24)" stroke="#2a2a2a" stroke-width="0.9"/>
<text x="89.3" y="353.15" font-size="7.65" class="lg">BSA / glucose / AG (5 mM)</text>
</g>
</svg>
</body></html>
